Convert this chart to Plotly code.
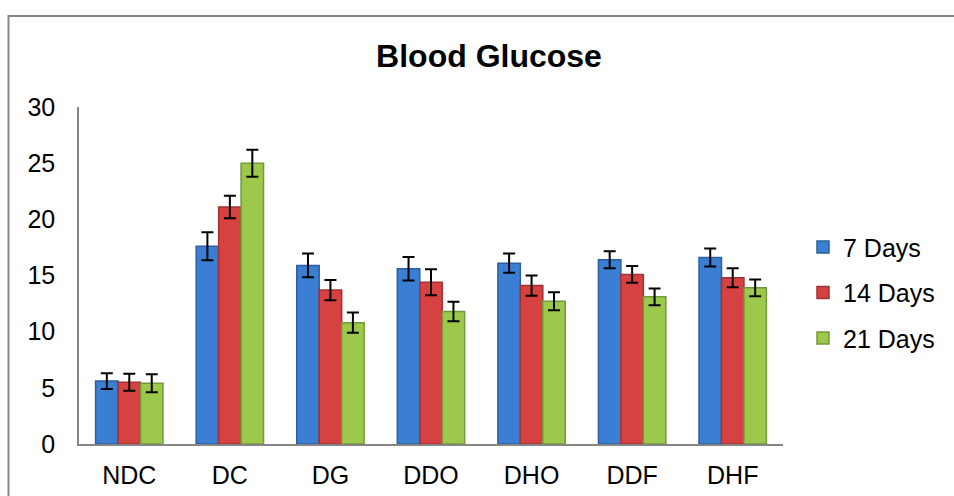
import plotly.graph_objects as go

categories = ["NDC", "DC", "DG", "DDO", "DHO", "DDF", "DHF"]
series_names = ["7 Days", "14 Days", "21 Days"]
days7 = [5.6, 17.6, 15.9, 15.6, 16.1, 16.4, 16.6]
days14 = [5.5, 21.1, 13.7, 14.4, 14.1, 15.1, 14.8]
days21 = [5.4, 25.0, 10.8, 11.8, 12.7, 13.1, 13.9]
err7 = [0.7, 1.25, 1.05, 1.05, 0.85, 0.75, 0.8]
err14 = [0.75, 1.0, 0.9, 1.15, 0.9, 0.75, 0.85]
err21 = [0.8, 1.2, 0.9, 0.87, 0.8, 0.75, 0.75]
y_ticks = [0, 5, 10, 15, 20, 25, 30]

colors = ["#3b7fd4", "#d64242", "#9cc84b"]
edges = ["#2d5f9f", "#a33131", "#73993a"]
FONT = "Liberation Sans, Arial, sans-serif"

fig = go.Figure()
for name, vals, errs, c, e in zip(series_names, [days7, days14, days21],
                                  [err7, err14, err21], colors, edges):
    fig.add_trace(go.Bar(
        x=categories, y=vals, name=name, legendgroup=name,
        marker=dict(color=c, line=dict(color=e, width=1.5)),
        error_y=dict(type="data", array=errs, visible=True,
                     color="black", thickness=2, width=6),
    ))

W, H = 954, 496
L, R, T, B = 79, W - 783, 107, H - 444
PW, PH = W - L - R, H - T - B

fig.update_layout(
    width=W, height=H, autosize=False,
    margin=dict(l=L, r=R, t=T, b=B, pad=0, autoexpand=False),
    paper_bgcolor="white", plot_bgcolor="white",
    barmode="group", bargap=0.33, bargroupgap=0,
    font=dict(family=FONT, size=25, color="black"),
    title=dict(text="<b>Blood Glucose</b>", font=dict(family=FONT, size=32, color="black"),
               x=(489 - L) / PW, xref="paper", xanchor="center",
               y=1 - 56 / H, yref="container", yanchor="middle"),
    showlegend=True,
    legend=dict(x=(803 - L) / PW, xref="paper", xanchor="left",
                y=(444 - 292.7) / PH, yref="paper", yanchor="middle",
                font=dict(family=FONT, size=25, color="black"),
                traceorder="grouped", tracegroupgap=10, itemwidth=30,
                bgcolor="rgba(0,0,0,0)"),
    xaxis=dict(showline=True, linecolor="#868686", linewidth=1.5,
               showgrid=False, ticks="", ticklabelstandoff=8, automargin=False,
               tickfont=dict(family=FONT, size=25, color="black")),
    yaxis=dict(range=[0, 30], tickvals=y_ticks, showline=True,
               linecolor="#868686", linewidth=1.5, showgrid=False,
               zeroline=False, ticks="", ticklabelstandoff=17, automargin=False,
               tickfont=dict(family=FONT, size=25, color="black")),
    shapes=[dict(type="rect", xref="paper", yref="paper",
                 x0=(8.5 - L) / PW, x1=(970 - L) / PW,
                 y0=(444 - 520) / PH, y1=(444 - 16) / PH,
                 line=dict(color="#868686", width=2), fillcolor="rgba(0,0,0,0)",
                 layer="below")],
)

fig.write_html(
    "out.html",
    config={"responsive": False, "displayModeBar": False},
    post_script=("document.documentElement.style.overflow='hidden';"
                 "document.body.style.margin='0';document.body.style.overflow='hidden';"),
)
